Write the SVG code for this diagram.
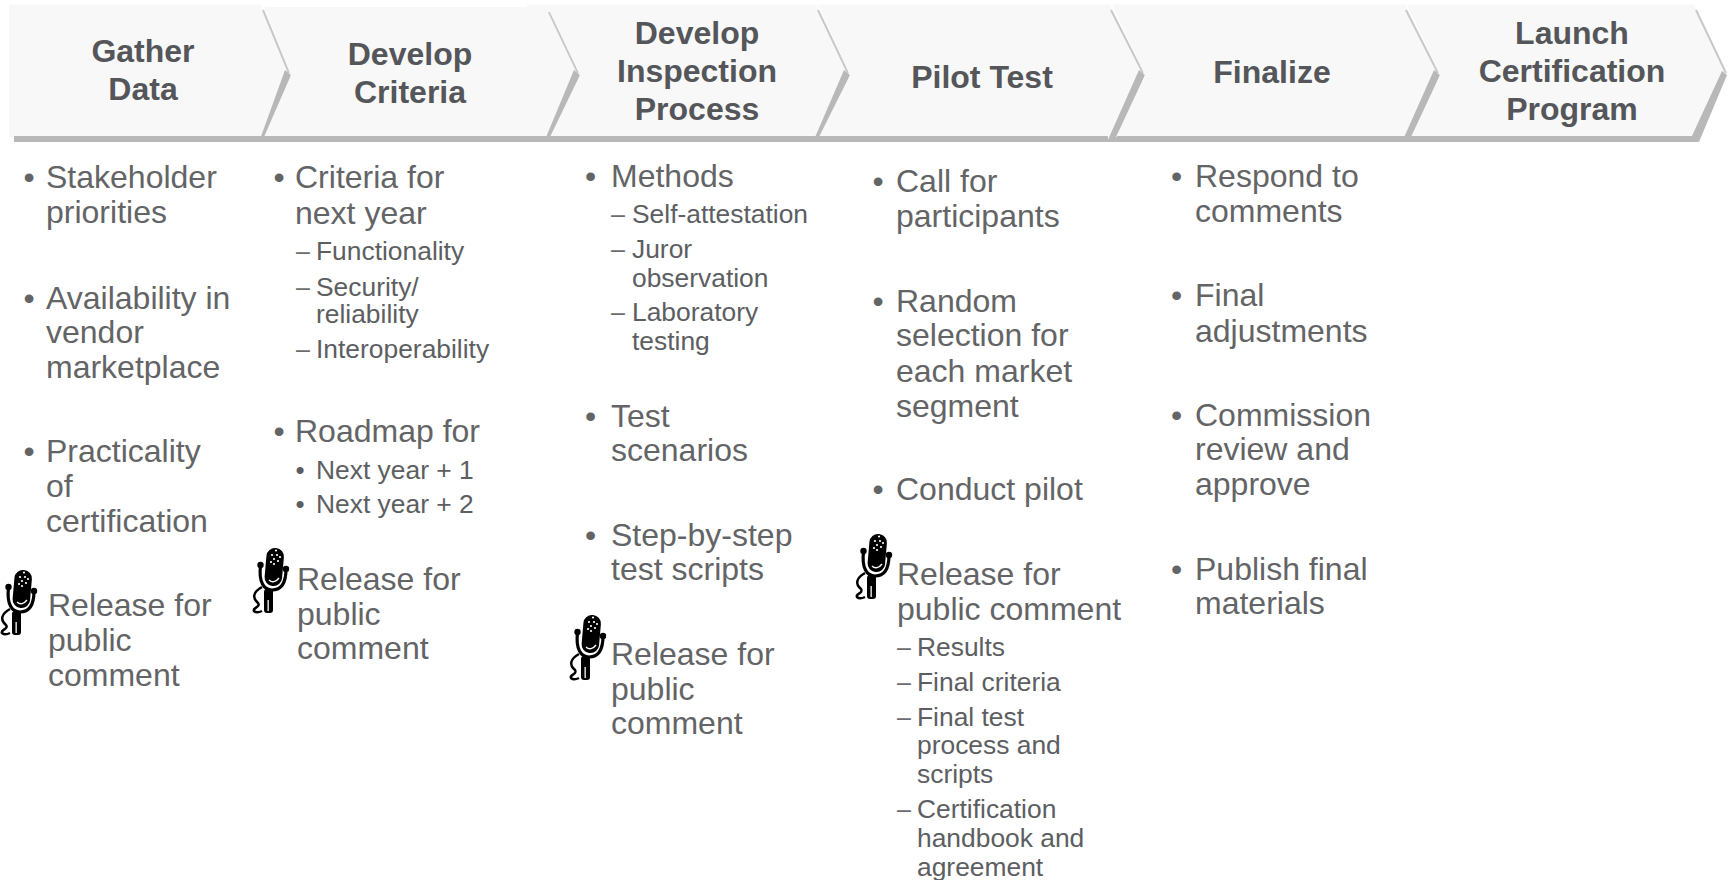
<svg xmlns="http://www.w3.org/2000/svg" xmlns:xlink="http://www.w3.org/1999/xlink" width="1729" height="880" viewBox="0 0 1729 880">
<style>
text{font-family:"Liberation Sans",Arial,sans-serif}
.h{font-size:32px;font-weight:700;fill:#54565a;text-anchor:middle}
.b{font-size:32px;fill:#636466}
.s{font-size:26.4px;fill:#5c5e62}
.bu{font-size:32px;fill:#636466}
.sb{font-size:26px;fill:#5c5e62}
.d{font-size:25px;fill:#6a6c70}
.f{fill:#f8f8f8}
.sh{fill:#b8b8b8}
.lt{fill:none;stroke:#c8c8c8;stroke-width:2}
</style>
<defs>
<g id="mic">
<path d="M10 39C1 44 0 50 6 55C9 59 0 60 2 63C4 65 8 64 10 63" fill="none" stroke="#000" stroke-width="2.500"/>
<rect x="12" y="41" width="9" height="24" rx="3" fill="#000"/>
<rect x="15.500" y="52" width="1.300" height="11" fill="#fff"/>
<path d="M8.500 18C6.500 34 12 42 20 42C30 42 34 34 34 21" fill="none" stroke="#000" stroke-width="3.200"/>
<circle cx="8.500" cy="17" r="3.200" fill="#000"/><circle cx="34" cy="21" r="3.200" fill="#000"/>
<rect x="13.500" y="0" width="17.500" height="38" rx="8.500" fill="#000" transform="rotate(5 22 19)"/>
<path d="M17 32C20 35 24 34 27 30" fill="none" stroke="#fff" stroke-width="1.300"/>
<g fill="#fff"><circle cx="24" cy="2.500" r="1.100"/><circle cx="20" cy="7" r="1.100"/><circle cx="25" cy="7" r="1.100"/><circle cx="28" cy="9" r="1.100"/><circle cx="22" cy="11" r="1.100"/><circle cx="26" cy="13" r="1.100"/><circle cx="19" cy="14" r="1.100"/><circle cx="22" cy="16" r="1.100"/></g>
</g>
</defs>
<g id="connectors"></g>
<g id="node-gather">
<polygon class="f" points="9,4.500 261,4.500 290,75 263,137 9,137"/>
<rect class="sh" x="14" y="136" width="250" height="6"/>
<polygon class="sh" points="285,70 291,75 269,142 259,142"/>
<path class="lt" d="M263 10L289 73"/>
<text class="h" x="143" y="62">Gather</text><text class="h" x="143" y="100">Data</text>
</g>
<g id="node-criteria">
<polygon class="f" points="264,7 548,7 579,75 548,137 264,137 291,75"/>
<rect class="sh" x="264" y="136" width="284" height="6"/>
<polygon class="sh" points="574,70 580,75 554,142 544,142"/>
<path class="lt" d="M549 12L578 73"/>
<text class="h" x="410" y="65">Develop</text><text class="h" x="410" y="103">Criteria</text>
</g>
<g id="node-inspection">
<polygon class="f" points="527,4.500 816,4.500 849,75 818,137 550,137 580,75 550,12 527,7"/>
<rect class="sh" x="550" y="136" width="268" height="6"/>
<polygon class="sh" points="844,70 850,75 823,142 813,142"/>
<path class="lt" d="M818 10L848 73"/>
<text class="h" x="697" y="44">Develop</text><text class="h" x="697" y="82">Inspection</text><text class="h" x="697" y="120">Process</text>
</g>
<g id="node-pilot">
<polygon class="f" points="818,4.500 1110,4.500 1144,75 1112,137 819,137 850,75"/>
<rect class="sh" x="819" y="136" width="289" height="6"/>
<polygon class="sh" points="1139,70 1145,75 1117,142 1107,142"/>
<path class="lt" d="M1111 10L1143 73"/>
<text class="h" x="982" y="88">Pilot Test</text>
</g>
<g id="node-finalize">
<polygon class="f" points="1112,4.500 1405,4.500 1439,75 1408,137 1116,137 1145,75"/>
<rect class="sh" x="1117" y="136" width="290" height="6"/>
<polygon class="sh" points="1434,70 1440,75 1412,142 1402,142"/>
<path class="lt" d="M1406 10L1438 73"/>
<text class="h" x="1272" y="83">Finalize</text>
</g>
<g id="node-launch">
<polygon class="f" points="1407,4.500 1694,4.500 1726,75 1695,137 1411,137 1440,75"/>
<rect class="sh" x="1408" y="136" width="290" height="6"/>
<polygon class="sh" points="1722,71 1727,75 1699,142 1691,138"/>
<path class="lt" d="M1696 10L1726 73"/>
<text class="h" x="1572" y="44">Launch</text><text class="h" x="1572" y="82">Certification</text><text class="h" x="1572" y="120">Program</text>
</g>
<g id="list-gather">
<text class="bu" x="23.500" y="188">•</text><text class="b" x="46" y="188">Stakeholder</text><text class="b" x="46" y="223">priorities</text>
<text class="bu" x="23.500" y="309">•</text><text class="b" x="46" y="309">Availability in</text><text class="b" x="46" y="343">vendor</text><text class="b" x="46" y="378">marketplace</text>
<text class="bu" x="23.500" y="462">•</text><text class="b" x="46" y="462">Practicality</text><text class="b" x="46" y="497">of</text><text class="b" x="46" y="532">certification</text>
<use href="#mic" xlink:href="#mic" x="0" y="570"/>
<text class="b" x="48" y="616">Release for</text><text class="b" x="48" y="651">public</text><text class="b" x="48" y="686">comment</text>
</g>
<g id="list-criteria">
<text class="bu" x="273.500" y="188">•</text><text class="b" x="295" y="188">Criteria for</text><text class="b" x="295" y="224">next year</text>
<text class="d" x="296" y="260">–</text><text class="s" x="316" y="260">Functionality</text>
<text class="d" x="296" y="296">–</text><text class="s" x="316" y="296">Security/</text><text class="s" x="316" y="323">reliability</text>
<text class="d" x="296" y="358">–</text><text class="s" x="316" y="358">Interoperability</text>
<text class="bu" x="273.500" y="442">•</text><text class="b" x="295" y="442">Roadmap for</text>
<text class="sb" x="295.500" y="479">•</text><text class="s" x="316" y="479">Next year + 1</text>
<text class="sb" x="295.500" y="513">•</text><text class="s" x="316" y="513">Next year + 2</text>
<use href="#mic" xlink:href="#mic" x="252" y="548"/>
<text class="b" x="297" y="590">Release for</text><text class="b" x="297" y="625">public</text><text class="b" x="297" y="659">comment</text>
</g>
<g id="list-inspection">
<text class="bu" x="585" y="187">•</text><text class="b" x="611" y="187">Methods</text>
<text class="d" x="611" y="223">–</text><text class="s" x="632" y="223">Self-attestation</text>
<text class="d" x="611" y="258">–</text><text class="s" x="632" y="258">Juror</text><text class="s" x="632" y="287">observation</text>
<text class="d" x="611" y="321">–</text><text class="s" x="632" y="321">Laboratory</text><text class="s" x="632" y="350">testing</text>
<text class="bu" x="585" y="427">•</text><text class="b" x="611" y="427">Test</text><text class="b" x="611" y="461">scenarios</text>
<text class="bu" x="585" y="546">•</text><text class="b" x="611" y="546">Step-by-step</text><text class="b" x="611" y="580">test scripts</text>
<use href="#mic" xlink:href="#mic" x="569" y="615"/>
<text class="b" x="611" y="665">Release for</text><text class="b" x="611" y="700">public</text><text class="b" x="611" y="734">comment</text>
</g>
<g id="list-pilot">
<text class="bu" x="872.500" y="192">•</text><text class="b" x="896" y="192">Call for</text><text class="b" x="896" y="227">participants</text>
<text class="bu" x="872.500" y="312">•</text><text class="b" x="896" y="312">Random</text><text class="b" x="896" y="346">selection for</text><text class="b" x="896" y="382">each market</text><text class="b" x="896" y="417">segment</text>
<text class="bu" x="872.500" y="500">•</text><text class="b" x="896" y="500">Conduct pilot</text>
<use href="#mic" xlink:href="#mic" x="855" y="534"/>
<text class="b" x="897" y="585">Release for</text><text class="b" x="897" y="620">public comment</text>
<text class="d" x="897" y="656">–</text><text class="s" x="917" y="656">Results</text>
<text class="d" x="897" y="691">–</text><text class="s" x="917" y="691">Final criteria</text>
<text class="d" x="897" y="726">–</text><text class="s" x="917" y="726">Final test</text><text class="s" x="917" y="754">process and</text><text class="s" x="917" y="783">scripts</text>
<text class="d" x="897" y="818">–</text><text class="s" x="917" y="818">Certification</text><text class="s" x="917" y="847">handbook and</text><text class="s" x="917" y="876">agreement</text>
</g>
<g id="list-finalize">
<text class="bu" x="1171" y="187">•</text><text class="b" x="1195" y="187">Respond to</text><text class="b" x="1195" y="222">comments</text>
<text class="bu" x="1171" y="306">•</text><text class="b" x="1195" y="306">Final</text><text class="b" x="1195" y="342">adjustments</text>
<text class="bu" x="1171" y="426">•</text><text class="b" x="1195" y="426">Commission</text><text class="b" x="1195" y="460">review and</text><text class="b" x="1195" y="495">approve</text>
<text class="bu" x="1171" y="580">•</text><text class="b" x="1195" y="580">Publish final</text><text class="b" x="1195" y="614">materials</text>
</g>
</svg>
